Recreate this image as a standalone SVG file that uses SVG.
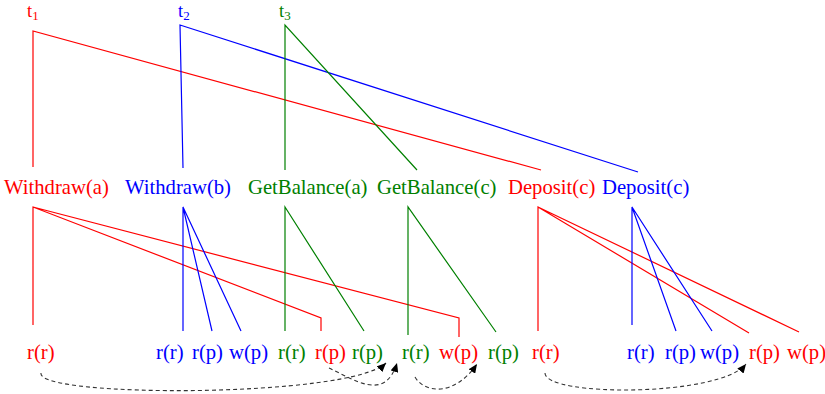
<svg xmlns="http://www.w3.org/2000/svg" width="825" height="394" viewBox="0 0 825 394">
<defs>
<style>
text{font-family:"Liberation Serif","Times New Roman",serif;font-size:20.7px}
.r{fill:#ff0000}.b{fill:#0000ff}.g{fill:#008000}
.top{font-size:18.5px}
.sub{font-size:13px}
.lr{stroke:#ff0000;fill:none;stroke-width:1.2}
.lb{stroke:#0000ff;fill:none;stroke-width:1.2}
.lg{stroke:#008000;fill:none;stroke-width:1.2}
.dep{stroke:#333;fill:none;stroke-width:1.1;stroke-dasharray:4 3}
</style>
<marker id="ah" markerUnits="userSpaceOnUse" markerWidth="10" markerHeight="8" refX="9" refY="4" orient="auto">
<path d="M0,0 L9,4 L0,8 z" fill="#000"/>
</marker>
</defs>
<rect width="825" height="394" fill="#fff"/>
<g id="connectors">
<path class="lr" d="M33,167 V31 L541,170"/>
<path class="lb" d="M183,168 L180,25 L638,172"/>
<path class="lg" d="M285,170 V25 L417,170"/>
<path class="lr" d="M33,325 V207 L321,318 V331 M33,207 L459,318 V337"/>
<path class="lb" d="M183,331 V207 L212,331 M183,207 L241,331"/>
<path class="lg" d="M285,331 V207 L364,331"/>
<path class="lg" d="M408,335 V207 L496,332"/>
<path class="lr" d="M538,331 V207 L749,333 M538,207 L799,332"/>
<path class="lb" d="M632,325 V207 L676,331 M632,207 L712,331"/>
<path class="dep" marker-end="url(#ah)" d="M41,373 C36,398 350,398 386,363"/>
<path class="dep" marker-end="url(#ah)" d="M329,368 C355,380 385,402 397,363"/>
<path class="dep" marker-end="url(#ah)" d="M415,377 C425,394 455,396 477,364"/>
<path class="dep" marker-end="url(#ah)" d="M545,373 C545,397 720,397 746,364"/>
</g>
<g id="t1"><text class="r top" x="27" y="17">t<tspan class="sub" dy="3">1</tspan></text></g>
<g id="t2"><text class="b top" x="178" y="17">t<tspan class="sub" dy="3">2</tspan></text></g>
<g id="t3"><text class="g top" x="279" y="17">t<tspan class="sub" dy="3">3</tspan></text></g>
<g id="withdraw-a"><text class="r" x="4" y="194">Withdraw(a)</text></g>
<g id="withdraw-b"><text class="b" x="125" y="194">Withdraw(b)</text></g>
<g id="getbalance-a"><text class="g" x="248" y="194">GetBalance(a)</text></g>
<g id="getbalance-c"><text class="g" x="377" y="194">GetBalance(c)</text></g>
<g id="deposit-c-red"><text class="r" x="508" y="194">Deposit(c)</text></g>
<g id="deposit-c-blue"><text class="b" x="602" y="194">Deposit(c)</text></g>
<g id="op1"><text class="r" x="27" y="359">r(r)</text></g>
<g id="op2"><text class="b" x="156" y="359">r(r)</text></g>
<g id="op3"><text class="b" x="192" y="359">r(p)</text></g>
<g id="op4"><text class="b" x="229" y="359">w(p)</text></g>
<g id="op5"><text class="g" x="278" y="359">r(r)</text></g>
<g id="op6"><text class="r" x="315" y="359">r(p)</text></g>
<g id="op7"><text class="g" x="352" y="359">r(p)</text></g>
<g id="op8"><text class="g" x="402" y="359">r(r)</text></g>
<g id="op9"><text class="r" x="439" y="359">w(p)</text></g>
<g id="op10"><text class="g" x="488" y="359">r(p)</text></g>
<g id="op11"><text class="r" x="532" y="359">r(r)</text></g>
<g id="op12"><text class="b" x="627" y="359">r(r)</text></g>
<g id="op13"><text class="b" x="665" y="359">r(p)</text></g>
<g id="op14"><text class="b" x="700" y="359">w(p)</text></g>
<g id="op15"><text class="r" x="749" y="359">r(p)</text></g>
<g id="op16"><text class="r" x="787" y="359">w(p)</text></g>
</svg>
